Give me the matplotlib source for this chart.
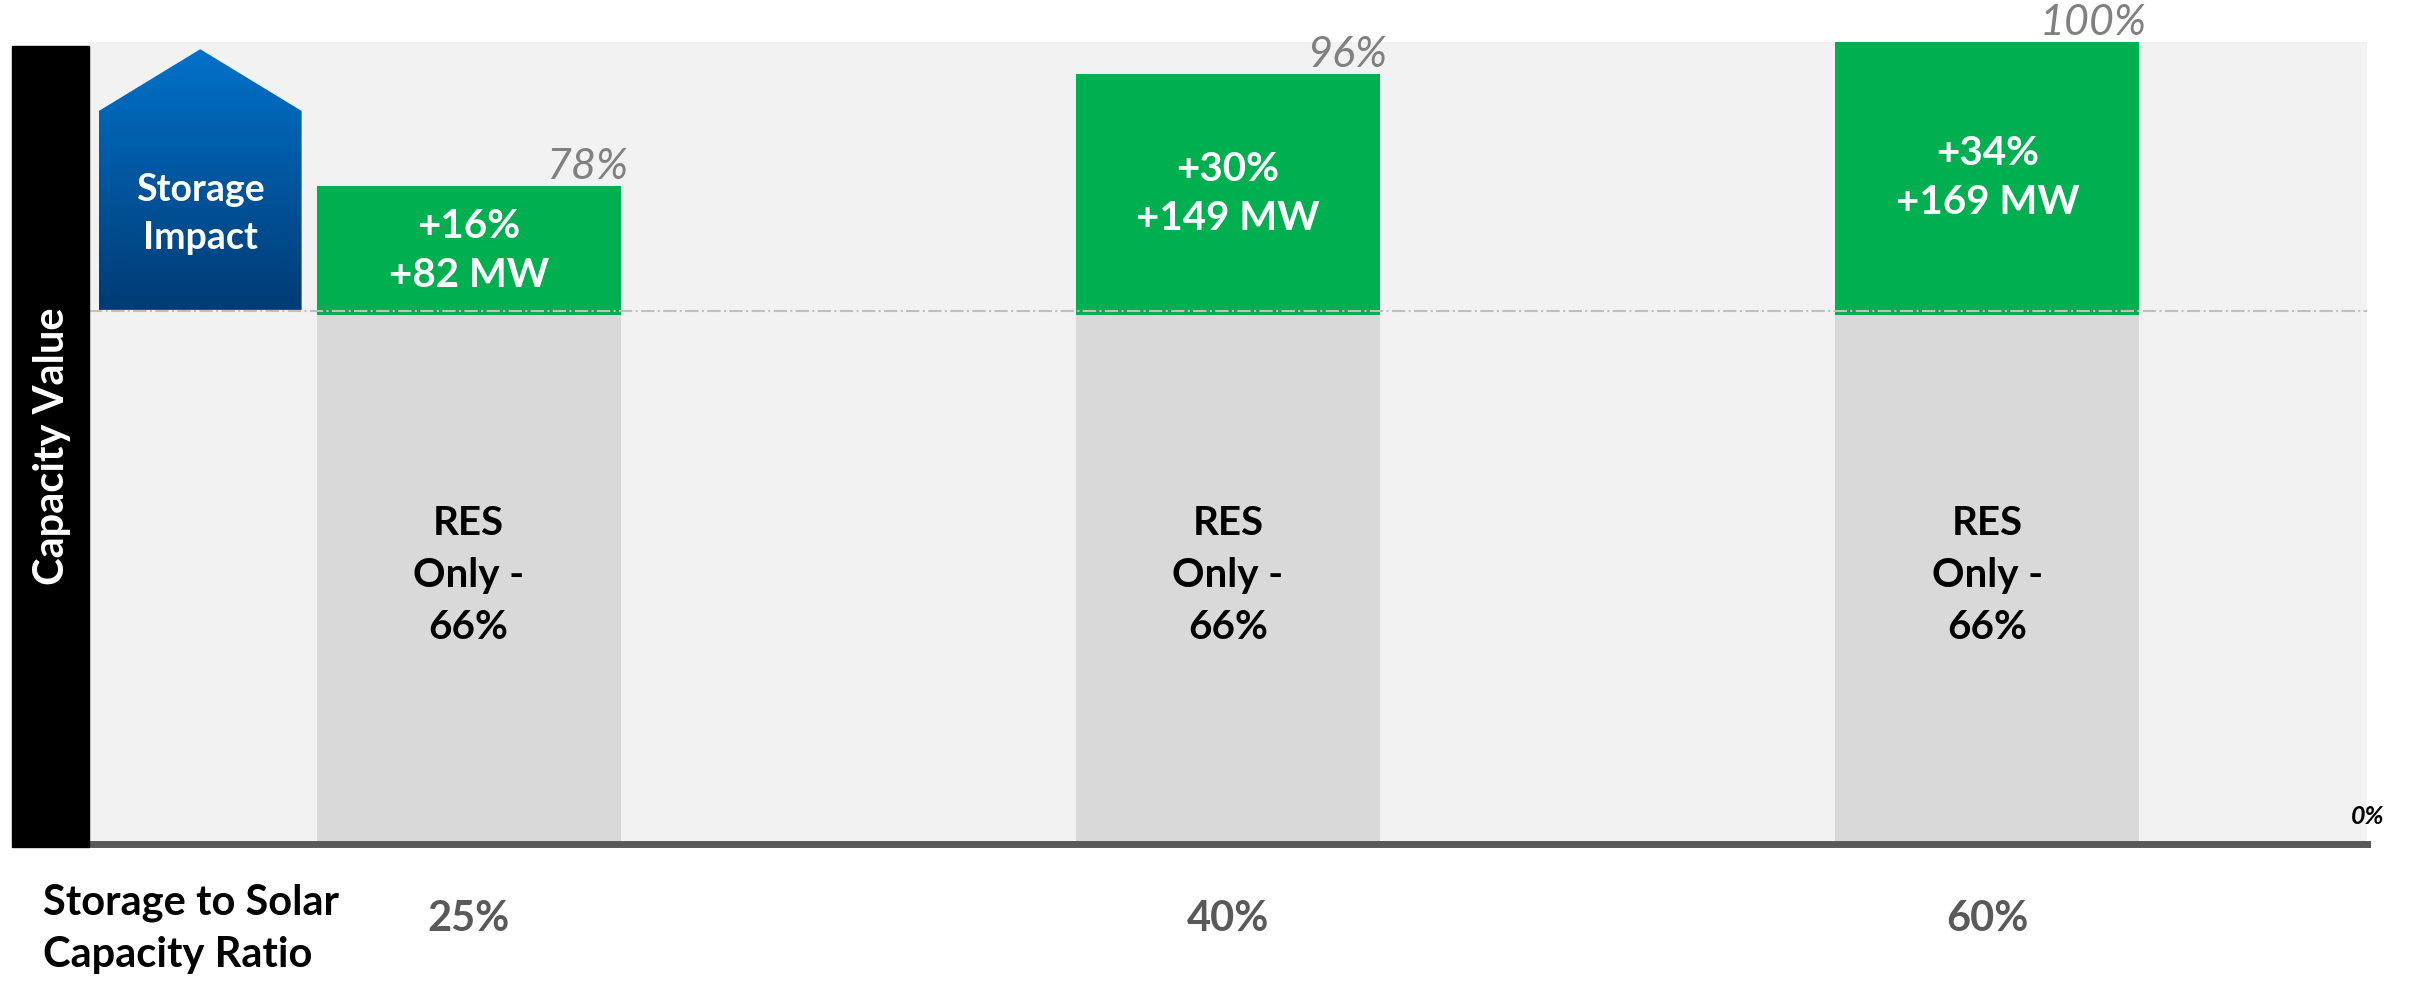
import matplotlib.pyplot as plt
import numpy as np
from matplotlib.patches import Polygon, Rectangle
from matplotlib.colors import LinearSegmentedColormap

plt.rcParams['font.family'] = ['Lato', 'DejaVu Sans']

ratios = ['25%', '40%', '60%']
res_only = [66, 66, 66]
storage_add = [16, 30, 34]
storage_mw = [82, 149, 169]
total_labels = ['78%', '96%', '100%']

W, H = 2415, 982
fig = plt.figure(figsize=(W / 100, H / 100), dpi=100)
ax = fig.add_axes([89 / W, 1 - 844 / H, (2367 - 89) / W, (844 - 42) / H])
ax.set_facecolor('#F2F2F2')
for s in ax.spines.values():
    s.set_visible(False)

x = np.arange(len(ratios))
bw = 0.4
ax.bar(x, res_only, bw, color='#D9D9D9', zorder=2)
ax.bar(x, storage_add, bw, bottom=res_only, color='#00B050', zorder=2)

ax.axhline(66.4, color='#BFBFBF', ls='-.', lw=1.5, zorder=3)
ax.axhline(0, color='#595959', lw=5, zorder=4, clip_on=False)

for i in range(len(ratios)):
    top = res_only[i] + storage_add[i]
    ax.text(i, res_only[i] + storage_add[i] / 2, '+%d%%\n+%d MW' % (storage_add[i], storage_mw[i]),
            ha='center', va='center', color='white', fontsize=29, fontweight='bold',
            linespacing=1.4, zorder=5)
    ax.text(i, res_only[i] / 2 + 0.5, 'RES\nOnly -\n%d%%' % res_only[i],
            ha='center', va='center', color='black', fontsize=29, fontweight='bold',
            linespacing=1.5, zorder=5)
    ax.text(i + bw / 2 + 0.01, top, total_labels[i], ha='right', va='bottom',
            color='#808080', fontsize=31, style='italic', zorder=5, clip_on=False)

# storage impact arrow, blue gradient
xl, xr = -0.487, -0.22
arrow = Polygon([[xl, 66.6], [xl, 91.4], [(xl + xr) / 2, 99.1], [xr, 91.4], [xr, 66.6]],
                closed=True, facecolor='none', edgecolor='none', zorder=3)
ax.add_patch(arrow)
grad = np.linspace(0, 1, 256).reshape(-1, 1)
cmap = LinearSegmentedColormap.from_list('blu', ['#0072CA', '#003B74'])
im = ax.imshow(grad, extent=[xl, xr, 66.6, 99.1], origin='upper', cmap=cmap,
               aspect='auto', zorder=3)
im.set_clip_path(arrow)
ax.text((xl + xr) / 2, 78.6, 'Storage\nImpact', ha='center', va='center', color='white',
        fontsize=27, fontweight='bold', linespacing=1.5, zorder=5)

ax.set_xlim(-0.5, 2.5)
ax.set_ylim(0, 100)
ax.set_yticks([])
ax.set_xticks(x, labels=ratios, fontsize=30, fontweight='bold', color='#595959')
ax.tick_params(axis='x', length=0, pad=40)

# black band behind the y label
fig.patches.append(Rectangle((12 / W, 1 - 847 / H), (89 - 12) / W, (847 - 46) / H,
                             transform=fig.transFigure, color='black', zorder=0))
fig.text(52 / W, 1 - 446 / H, 'Capacity Value', rotation=90, ha='center', va='center',
         color='white', fontsize=30, fontweight='bold')

fig.text(43 / W, 1 - 929 / H, 'Storage to Solar\nCapacity Ratio', ha='left', va='center',
         color='black', fontsize=30, fontweight='bold', linespacing=1.45)
fig.text(2384 / W, 1 - 816 / H, '0%', ha='right', va='center', color='black',
         fontsize=18, fontweight='bold', style='italic')

fig.savefig('out.png', dpi=100)
